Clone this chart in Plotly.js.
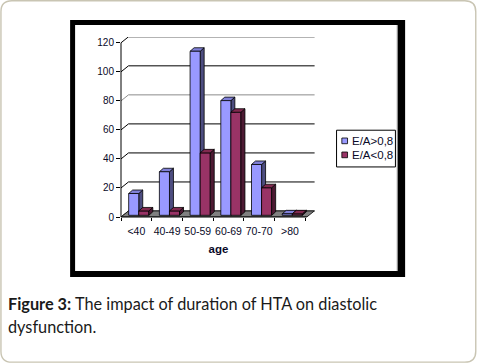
<!DOCTYPE html>
<html><head><meta charset="utf-8">
<script src="https://cdn.plot.ly/plotly-3.0.1.min.js"></script>
<style>html,body{margin:0;padding:0;background:#fff;}#chart{width:481px;height:364px;}</style>
</head><body><div id="chart"></div>
<script>
// ---- data ----
const categories = ['<40', '40-49', '50-59', '60-69', '70-70', '>80'];
const seriesNames = ['E/A>0,8', 'E/A<0,8'];
const valuesHigh = [15, 30, 113, 79, 35, 1];
const valuesLow = [3, 3, 43, 71, 19, 1];
const yTicks = [0, 20, 40, 60, 80, 100, 120];
const xTitle = 'age';
const captionBold = 'Figure 3:';
const captionLines = ['The impact of duration of HTA on diastolic', 'dysfunction.'];

// ---- styling ----
const blue = {front: '#9999ff', side: '#4d4d80', top: '#8080d8'};
const red = {front: '#993366', side: '#4d1a33', top: '#80294f'};
const W = 481, H = 364;
const L = 121, R = 316.4, B = 216.7, T = 36.9;
const xMin = -0.5, xMax = 5.85, yMin = 0, yMax = 124;
const pw = R - L, ph = B - T;
const ux = (xMax - xMin) / pw, uy = (yMax - yMin) / ph;
const PX = p => (p - L) / pw;
const PY = p => (B - p) / ph;
const f = v => (+v).toFixed(5);

const barW = 10.1 * ux, offHigh = -7.7 * ux, offLow = offHigh + barW;
const base = 1.7 * uy;
const depthX = 4 * ux, depthY = 3.5 * uy;
const wallX = 7.5, wallY = 6; // px
const xs = categories.map((c, i) => i);

const shapes = [];
function rrect(x0, y0, x1, y1, r) {
  const P = (x, y) => f(PX(x)) + ',' + f(PY(y));
  return 'M' + P(x0 + r, y0) + ' L' + P(x1 - r, y0) + ' Q' + P(x1, y0) + ' ' + P(x1, y0 + r) +
    ' L' + P(x1, y1 - r) + ' Q' + P(x1, y1) + ' ' + P(x1 - r, y1) +
    ' L' + P(x0 + r, y1) + ' Q' + P(x0, y1) + ' ' + P(x0, y1 - r) +
    ' L' + P(x0, y0 + r) + ' Q' + P(x0, y0) + ' ' + P(x0 + r, y0) + ' Z';
}
shapes.push({type: 'path', xref: 'paper', yref: 'paper', layer: 'below', path: rrect(0.7, 0.7, 476.5, 361.7, 11),
  line: {color: '#c9c5b3', width: 1.4}, fillcolor: 'rgba(0,0,0,0)'});
shapes.push({type: 'rect', xref: 'paper', yref: 'paper', layer: 'below', x0: PX(70), x1: PX(405.7), y0: PY(20), y1: PY(276.7),
  line: {width: 0}, fillcolor: '#000'});
shapes.push({type: 'rect', xref: 'paper', yref: 'paper', layer: 'below', x0: PX(75), x1: PX(398), y0: PY(25), y1: PY(270.7),
  line: {width: 0}, fillcolor: '#fff'});
shapes.push({type: 'line', xref: 'paper', yref: 'paper', layer: 'below', x0: PX(397.8), x1: PX(397.8), y0: PY(25), y1: PY(270.7),
  line: {width: 1, color: '#9a9a9a'}});
yTicks.forEach(v => {
  const yb = v + wallY * uy;
  shapes.push({type: 'path', xref: 'paper', yref: 'y', layer: 'below',
    path: 'M' + f(PX(L)) + ',' + f(v) + ' L' + f(PX(L + wallX)) + ',' + f(yb) + ' L' + f(PX(315)) + ',' + f(yb),
    line: {color: v === 80 ? '#8c8c8c' : '#000', width: 1}});
});
const fx1 = 5.55;
shapes.push({type: 'path', xref: 'x', yref: 'y', layer: 'below',
  path: 'M' + f(-0.5) + ',0 L' + f(fx1) + ',0 L' + f(fx1 + wallX * ux) + ',' + f(wallY * uy) + ' L' + f(-0.5 + wallX * ux) + ',' + f(wallY * uy) + ' Z',
  fillcolor: '#808080', line: {color: '#202020', width: 1}});

function faces(vals, off, col, layer) {
  vals.forEach((v, i) => {
    const x0 = i + off, x1 = x0 + barW, b = base, t = base + v;
    shapes.push({type: 'path', xref: 'x', yref: 'y', layer: layer,
      path: 'M' + f(x1) + ',' + f(b) + ' L' + f(x1 + depthX) + ',' + f(b + depthY) + ' L' + f(x1 + depthX) + ',' + f(t + depthY) + ' L' + f(x1) + ',' + f(t) + ' Z',
      fillcolor: col.side, line: {color: '#000', width: 0.8}});
    shapes.push({type: 'path', xref: 'x', yref: 'y', layer: layer,
      path: 'M' + f(x0) + ',' + f(t) + ' L' + f(x1) + ',' + f(t) + ' L' + f(x1 + depthX) + ',' + f(t + depthY) + ' L' + f(x0 + depthX) + ',' + f(t + depthY) + ' Z',
      fillcolor: col.top, line: {color: '#000', width: 0.8}});
  });
}
faces(valuesHigh, offHigh, blue, 'below');
faces(valuesLow, offLow, red, 'above');

shapes.push({type: 'line', xref: 'paper', yref: 'y', layer: 'above', x0: 0, x1: 0, y0: 0, y1: 120, line: {color: '#000', width: 1}});
shapes.push({type: 'line', xref: 'x', yref: 'paper', layer: 'above', x0: -0.5, x1: fx1, y0: 0, y1: 0, line: {color: '#000', width: 1}});

shapes.push({type: 'rect', xref: 'paper', yref: 'paper', layer: 'above', x0: PX(337), x1: PX(396), y0: PY(130), y1: PY(166.7),
  line: {color: '#000', width: 1}, fillcolor: '#fff'});
shapes.push({type: 'rect', xref: 'paper', yref: 'paper', layer: 'above', x0: PX(342.3), x1: PX(348), y0: PY(137.8), y1: PY(143.5),
  line: {color: '#000', width: 0.8}, fillcolor: blue.front});
shapes.push({type: 'rect', xref: 'paper', yref: 'paper', layer: 'above', x0: PX(342.3), x1: PX(348), y0: PY(151.8), y1: PY(157.5),
  line: {color: '#000', width: 0.8}, fillcolor: red.front});

const tickFont = {family: 'Liberation Sans, Arial, sans-serif', size: 10, color: '#0a0a28'};
const annotations = [
  {xref: 'paper', yref: 'paper', x: PX(350.5), y: PY(140.8), xanchor: 'left', yanchor: 'middle', showarrow: false,
    text: seriesNames[0], font: {family: 'Liberation Sans, Arial, sans-serif', size: 11.5, color: '#0a0a28'}},
  {xref: 'paper', yref: 'paper', x: PX(350.5), y: PY(155), xanchor: 'left', yanchor: 'middle', showarrow: false,
    text: seriesNames[1], font: {family: 'Liberation Sans, Arial, sans-serif', size: 11.5, color: '#0a0a28'}},
  {xref: 'paper', yref: 'paper', x: PX(6), y: PY(303.3), xanchor: 'left', yanchor: 'middle', showarrow: false,
    text: '<b>' + captionBold + '</b> ' + captionLines[0], font: {family: 'Lato, sans-serif', size: 16.3, color: '#1a1a1a'}},
  {xref: 'paper', yref: 'paper', x: PX(6), y: PY(326.3), xanchor: 'left', yanchor: 'middle', showarrow: false,
    text: captionLines[1], font: {family: 'Lato, sans-serif', size: 16.3, color: '#1a1a1a'}}
];

const traces = [
  {type: 'bar', name: seriesNames[0], x: xs, y: valuesHigh, base: base, width: barW, offset: offHigh,
    marker: {color: blue.front, line: {color: '#000', width: 0.8}}, hoverinfo: 'skip', showlegend: false},
  {type: 'bar', name: seriesNames[1], x: xs, y: valuesLow, base: base, width: barW, offset: offLow,
    marker: {color: red.front, line: {color: '#000', width: 0.8}}, hoverinfo: 'skip', showlegend: false}
];

const layout = {
  width: W, height: H,
  margin: {l: L, r: W - R, t: T, b: H - B, pad: 0},
  paper_bgcolor: '#fff', plot_bgcolor: 'rgba(0,0,0,0)',
  barmode: 'overlay', showlegend: false,
  xaxis: {range: [xMin, xMax], tickmode: 'array', tickvals: xs, ticktext: categories, ticks: '',
    ticklabelstandoff: 6,
    showgrid: false, zeroline: false, showline: false,
    tickfont: {family: 'Liberation Sans, Arial, sans-serif', size: 10.5, color: '#0a0a28'}, fixedrange: true,
    minor: {tickmode: 'array', tickvals: [-0.5, 0.5, 1.5, 2.5, 3.5, 4.5, 5.5], ticks: 'outside', ticklen: 3, tickcolor: '#000', showgrid: false},
    title: {text: '<b>' + xTitle + '</b>', font: {family: 'Liberation Sans, Arial, sans-serif', size: 11.5, color: '#0a0a28'}, standoff: 9}},
  yaxis: {range: [yMin, yMax], tickmode: 'array', tickvals: yTicks, ticks: 'outside', ticklen: 4, tickcolor: '#000',
    showgrid: false, zeroline: false, showline: false, tickfont: tickFont, fixedrange: true},
  shapes: shapes, annotations: annotations
};
Plotly.newPlot('chart', traces, layout, {staticPlot: true, displayModeBar: false});
</script></body></html>
